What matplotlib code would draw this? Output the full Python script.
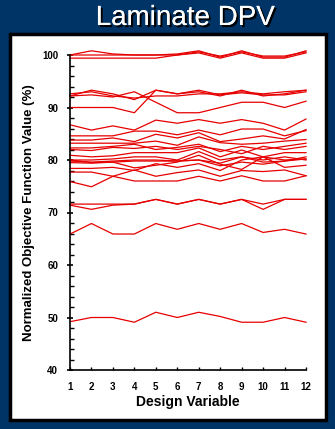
import matplotlib
matplotlib.use("Agg")
import matplotlib.pyplot as plt
import matplotlib.patheffects as pe
from matplotlib.patches import Rectangle
from matplotlib.ticker import MultipleLocator

plt.rcParams['font.family'] = ['Liberation Sans', 'DejaVu Sans']

NAVY = '#003366'
LINE_RED = '#e60000'

design_vars = list(range(1, 13))

# normalized objective value (%) per run, one list per curve
top_runs = [
    [100.0, 100.8, 100.2, 100.0, 100.0, 100.2, 100.8, 99.6, 100.8, 99.6, 99.6, 100.8],
    [100.0, 100.0, 100.0, 100.0, 100.0, 100.0, 100.4, 99.4, 100.4, 99.4, 99.4, 100.4],
    [99.4, 99.4, 99.4, 99.4, 99.4, 100.0, 100.6, 99.8, 100.6, 99.8, 99.8, 100.6],
]
upper_runs = [
    [92.2, 93.3, 92.6, 91.5, 93.3, 92.6, 93.0, 92.2, 93.3, 92.2, 92.6, 93.3],
    [92.6, 93.0, 92.2, 91.8, 92.2, 92.2, 92.6, 92.6, 93.0, 92.6, 93.0, 93.3],
    [90.0, 90.0, 90.0, 89.0, 93.3, 92.6, 93.3, 92.4, 92.8, 92.4, 92.4, 93.0],
    [92.2, 92.4, 92.0, 93.0, 91.0, 89.0, 89.0, 90.0, 91.0, 91.0, 90.0, 91.2],
]
middle_runs = [
    [86.7, 85.7, 86.5, 85.7, 87.6, 87.0, 87.7, 87.0, 87.7, 87.0, 85.7, 87.8],
    [84.6, 84.6, 84.6, 85.5, 85.5, 84.8, 85.7, 84.8, 85.9, 85.9, 84.6, 85.6],
    [83.8, 83.8, 84.2, 83.5, 84.9, 84.2, 85.2, 83.5, 84.0, 84.6, 84.0, 85.8],
    [83.2, 83.2, 83.2, 83.2, 83.6, 82.8, 84.4, 83.3, 83.0, 83.2, 83.6, 83.9],
    [82.3, 82.3, 82.6, 83.0, 82.0, 82.4, 83.0, 81.6, 82.6, 82.0, 82.6, 83.2],
    [82.0, 81.8, 82.4, 82.2, 82.6, 82.0, 82.6, 82.0, 81.2, 82.6, 82.0, 82.6],
    [80.9, 80.6, 80.8, 81.4, 81.4, 81.4, 82.3, 80.6, 81.9, 80.6, 81.4, 81.4],
    [80.0, 80.0, 80.2, 80.6, 80.6, 80.0, 81.6, 80.0, 80.6, 80.0, 80.6, 80.0],
    [79.8, 79.6, 79.8, 80.0, 80.0, 79.8, 80.0, 79.4, 80.6, 79.6, 79.8, 80.6],
    [80.0, 79.5, 79.6, 79.8, 79.8, 79.8, 80.0, 78.9, 79.6, 79.2, 79.8, 80.2],
    [79.5, 79.4, 79.6, 78.5, 79.0, 79.6, 80.9, 79.2, 78.2, 80.6, 78.6, 79.0],
    [78.4, 78.4, 78.6, 78.0, 79.3, 78.6, 79.3, 78.0, 80.0, 80.6, 80.0, 80.2],
    [77.7, 77.7, 76.9, 78.1, 76.9, 77.6, 78.1, 76.9, 78.0, 77.8, 78.1, 77.0],
    [75.9, 74.9, 76.9, 76.0, 76.0, 76.0, 76.9, 76.0, 77.0, 76.0, 76.0, 77.0],
]
lower_runs = [
    [71.6, 71.6, 71.6, 71.6, 72.5, 71.6, 72.5, 71.6, 72.5, 71.6, 72.5, 72.5],
    [71.4, 70.6, 71.4, 71.6, 72.5, 71.6, 72.5, 71.6, 72.5, 70.6, 72.5, 72.5],
    [65.9, 67.9, 65.9, 65.9, 67.9, 66.8, 67.9, 66.8, 67.9, 66.2, 66.8, 65.9],
    [49.2, 50.0, 50.0, 49.1, 51.0, 50.0, 51.0, 50.2, 49.1, 49.1, 50.0, 49.1],
]

y_ticks = [40, 50, 60, 70, 80, 90, 100]

fig = plt.figure(figsize=(3.35, 4.29), dpi=100)
fig.patch.set_facecolor(NAVY)

# white card with a black frame behind the plot
fig.patches.append(Rectangle((9.5 / 335, 1 - 420 / 429), 316.5 / 335, 386 / 429,
                             transform=fig.transFigure, facecolor='white',
                             edgecolor='black', linewidth=2.5, zorder=-10))

fig.text(185 / 335, 1 - 18 / 429, "Laminate DPV", color='white', fontsize=20,
         ha='center', va='center',
         path_effects=[pe.withSimplePatchShadow(offset=(1.5, -1.5), shadow_rgbFace='black', alpha=1.0),
                       pe.Normal()])

ax = fig.add_axes([70 / 335, 1 - 370 / 429, 236 / 335, 315 / 429])
ax.set_facecolor('none')

for run in top_runs + upper_runs + middle_runs + lower_runs:
    ax.plot(design_vars, run, color=LINE_RED, linewidth=0.9, clip_on=False)

ax.set_xlim(1, 12)
ax.set_ylim(40, 100)
ax.set_xticks(design_vars)
ax.set_yticks(y_ticks)
ax.yaxis.set_minor_locator(MultipleLocator(2))

for side in ('top', 'right'):
    ax.spines[side].set_visible(False)
for side in ('left', 'bottom'):
    ax.spines[side].set_linewidth(1.2)

ax.tick_params(axis='y', which='major', direction='inout', length=5, width=1.2,
               pad=6, labelsize=7)
ax.tick_params(axis='y', which='minor', direction='in', length=3, width=1.0)
ax.tick_params(axis='x', which='major', direction='in', length=2.5, width=1.0,
               pad=9, labelsize=7)
for lbl in ax.get_xticklabels() + ax.get_yticklabels():
    lbl.set_fontweight('bold')

ax.set_xlabel("Design Variable", fontsize=10, fontweight='bold', labelpad=2)
ax.set_ylabel("Normalized Objective Function Value (%)", fontsize=9.5,
              fontweight='bold', labelpad=5)

fig.savefig("out.png", dpi=100, facecolor=NAVY)
